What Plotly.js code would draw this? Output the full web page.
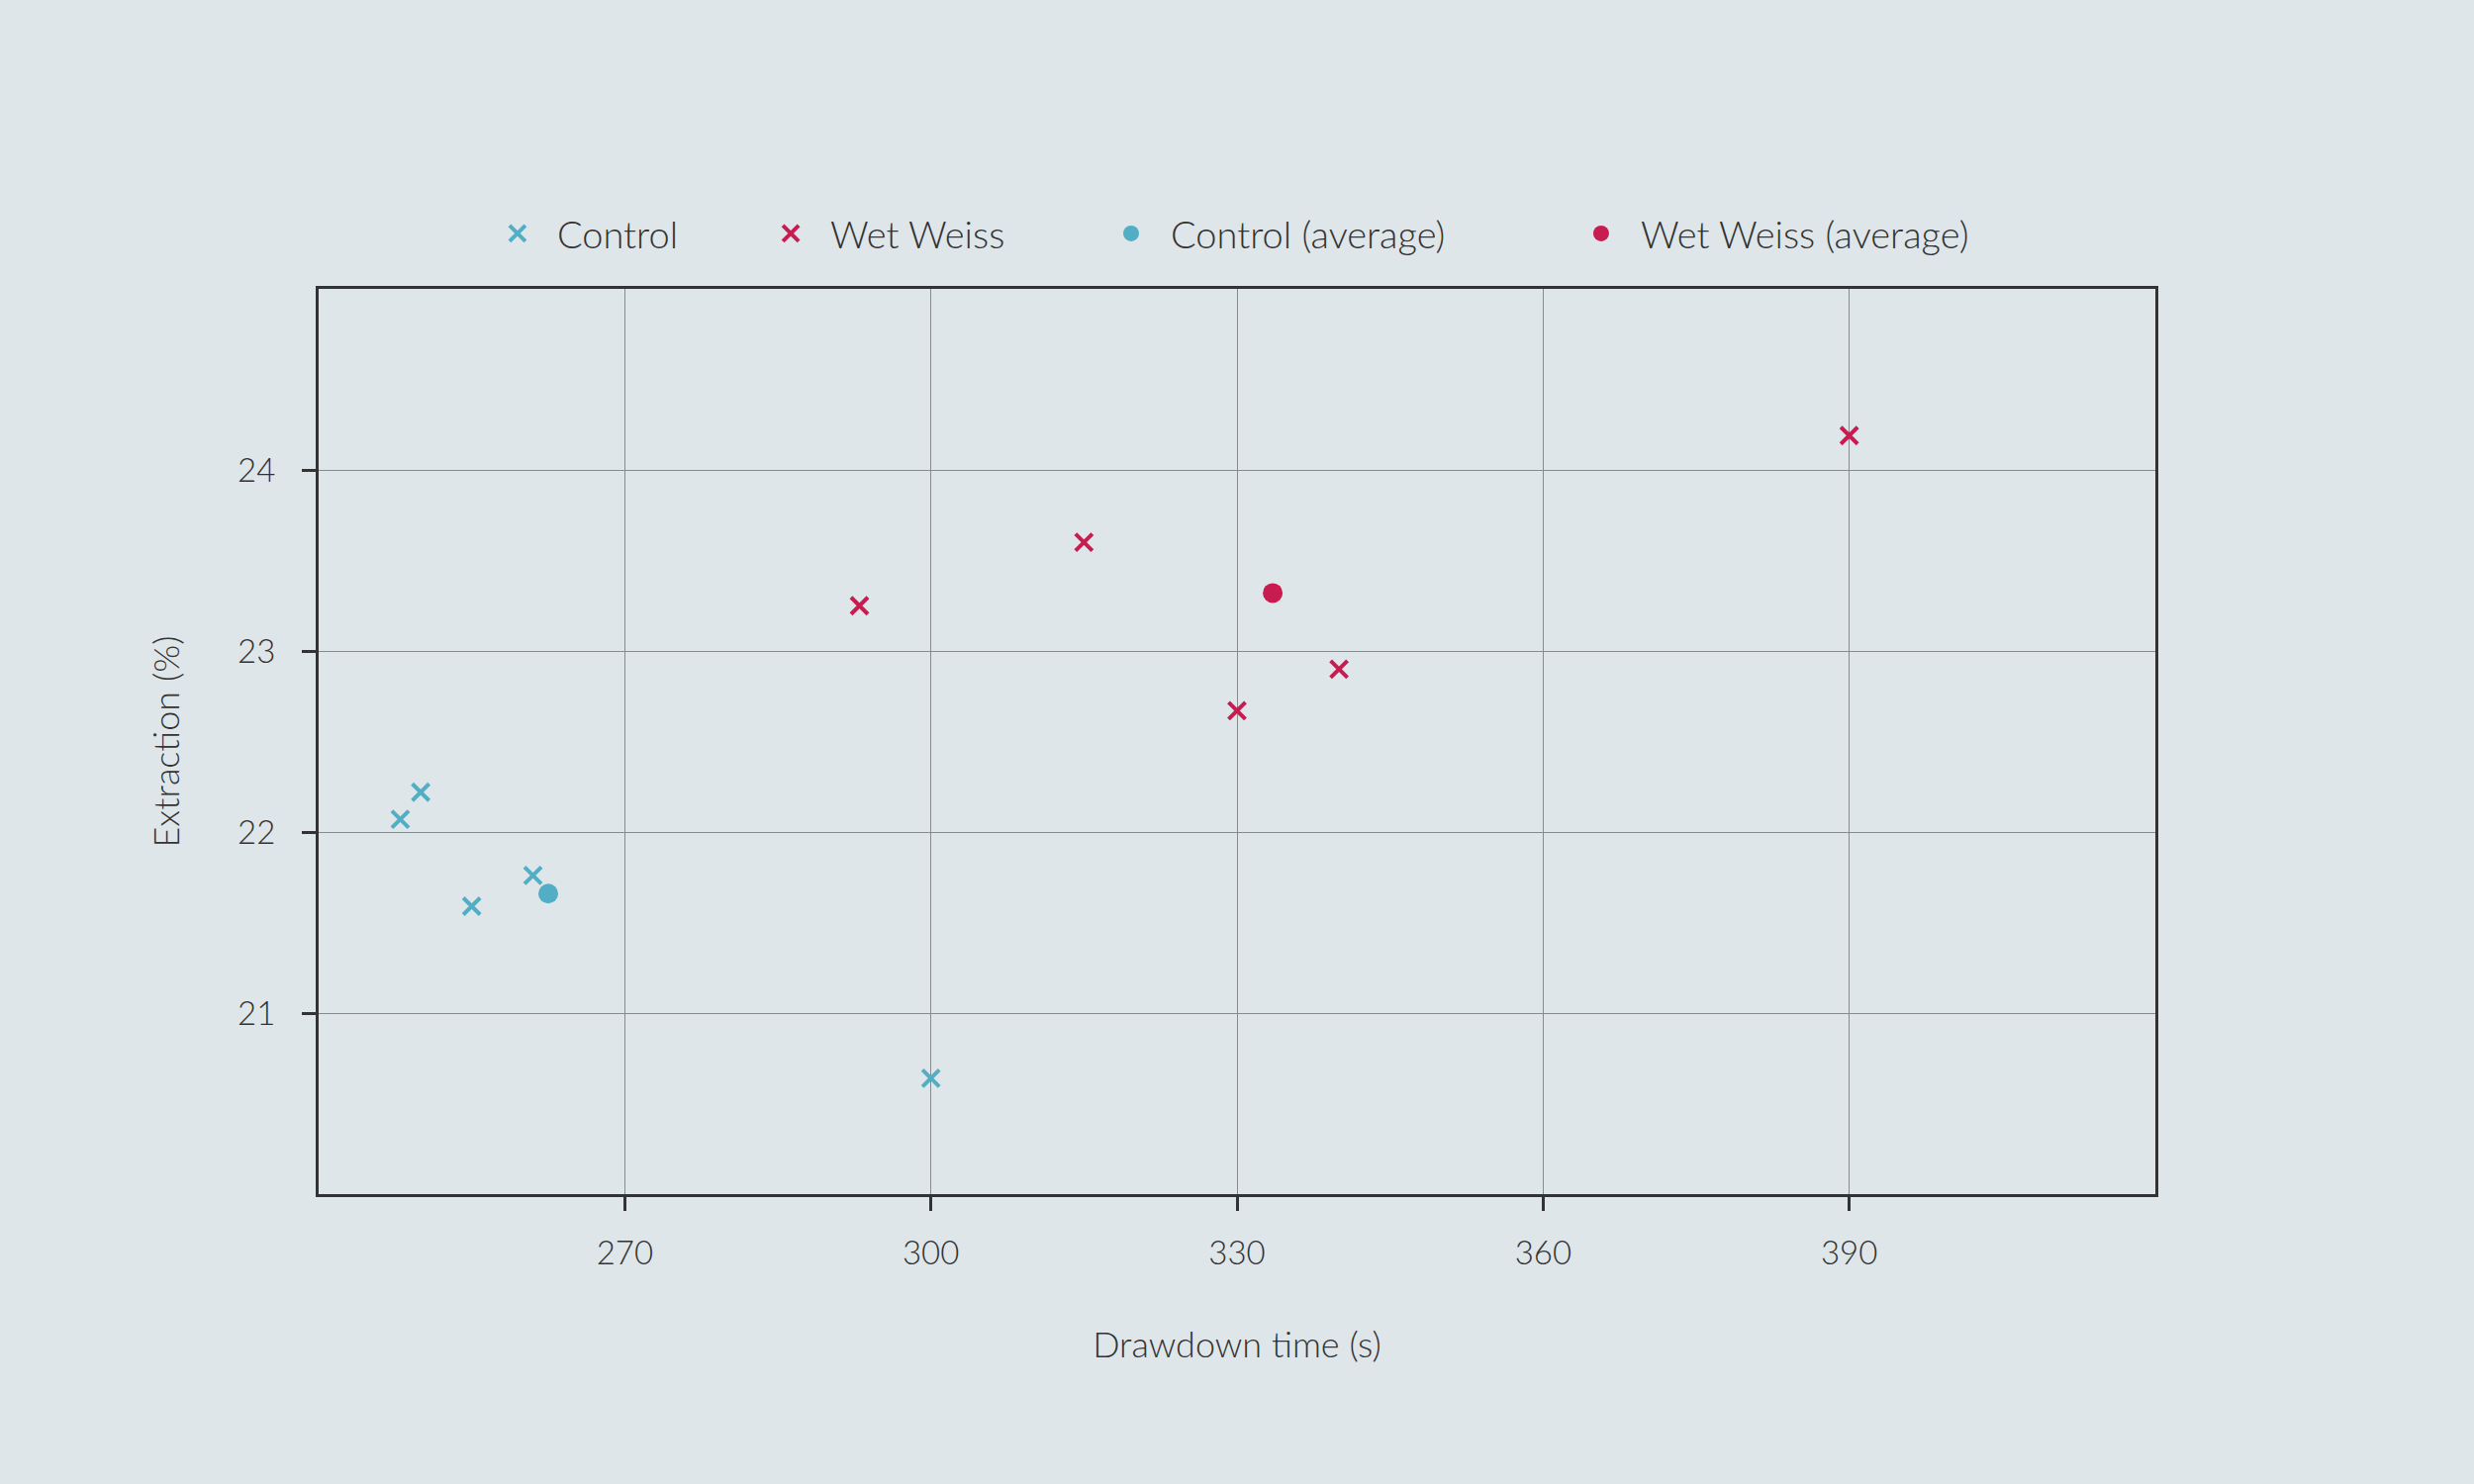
<!DOCTYPE html>
<html>
<head>
<meta charset="utf-8">
<script src="https://cdn.plot.ly/plotly-3.0.1.min.js"></script>
<style>
  html, body { margin: 0; padding: 0; background: #dfe6e9; }
  #myDiv { width: 2500px; height: 1500px; }
</style>
</head>
<body>
<div id="myDiv"></div>
<script>
// drawdown time (s) and extraction (%)
var controlTime = [248, 250, 255, 261, 300];
var controlExtraction = [22.07, 22.22, 21.59, 21.76, 20.64];
var weissTime = [293, 315, 330, 340, 390];
var weissExtraction = [23.25, 23.6, 22.67, 22.9, 24.19];
var controlAvgTime = [262.5];
var controlAvgExtraction = [21.66];
var weissAvgTime = [333.5];
var weissAvgExtraction = [23.32];

var xTicks = [270, 300, 330, 360, 390];
var yTicks = [21, 22, 23, 24];

var cyan = '#52aec4';
var crimson = '#c81b50';

var data = [];
data.push({
  x: controlTime, y: controlExtraction,
  type: 'scatter', mode: 'markers', name: 'Control', legend: 'legend',
  marker: { symbol: 'x-thin', size: 17, color: cyan, line: { color: cyan, width: 4 } }
});
data.push({
  x: weissTime, y: weissExtraction,
  type: 'scatter', mode: 'markers', name: 'Wet Weiss', legend: 'legend2',
  marker: { symbol: 'x-thin', size: 17, color: crimson, line: { color: crimson, width: 4 } }
});
data.push({
  x: controlAvgTime, y: controlAvgExtraction,
  type: 'scatter', mode: 'markers', name: 'Control (average)', legend: 'legend3',
  marker: { symbol: 'circle', size: 20, color: cyan }
});
data.push({
  x: weissAvgTime, y: weissAvgExtraction,
  type: 'scatter', mode: 'markers', name: 'Wet Weiss (average)', legend: 'legend4',
  marker: { symbol: 'circle', size: 20, color: crimson }
});

// one legend per entry so the spacing matches the original
function legendAt(xpos) {
  return {
    orientation: 'h',
    x: xpos, xanchor: 'left',
    y: 1.061, yanchor: 'middle',
    itemwidth: 70,
    font: { size: 38 },
    bgcolor: 'rgba(0,0,0,0)'
  };
}

var layout = {
  width: 2500,
  height: 1500,
  paper_bgcolor: '#dfe6e9',
  plot_bgcolor: '#dfe6e9',
  font: { family: 'Lato, sans-serif', size: 33, color: '#333333', weight: 300 },
  margin: { l: 322, r: 322, t: 292, b: 293 },
  showlegend: true,
  legend: legendAt(0.0867),
  legend2: legendAt(0.2355),
  legend3: legendAt(0.4208),
  legend4: legendAt(0.6767),
  xaxis: {
    range: [240, 420],
    tickvals: xTicks,
    ticktext: xTicks.map(String),
    showgrid: true, gridcolor: '#868b8e', gridwidth: 1.3,
    zeroline: false,
    showline: true, mirror: true, linecolor: '#333333', linewidth: 3,
    ticks: 'outside', ticklen: 14, tickwidth: 3, tickcolor: '#333333',
    ticklabelstandoff: 14,
    title: { text: 'Drawdown time (s)', standoff: 64, font: { size: 36 } }
  },
  yaxis: {
    range: [20, 25],
    tickvals: yTicks,
    ticktext: yTicks.map(String),
    showgrid: true, gridcolor: '#868b8e', gridwidth: 1.3,
    zeroline: false,
    showline: true, mirror: true, linecolor: '#333333', linewidth: 3,
    ticks: 'outside', ticklen: 14, tickwidth: 3, tickcolor: '#333333',
    ticklabelstandoff: 20,
    title: { text: 'Extraction (%)', standoff: 48, font: { size: 36 } }
  }
};

Plotly.newPlot('myDiv', data, layout, { displayModeBar: false });
</script>
</body>
</html>
